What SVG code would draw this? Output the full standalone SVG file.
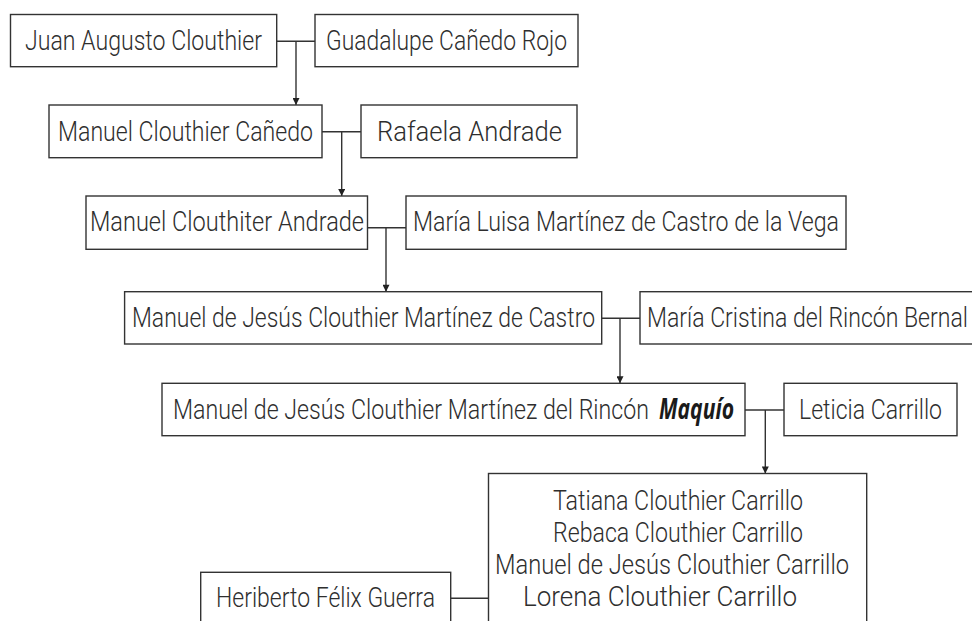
<svg xmlns="http://www.w3.org/2000/svg" width="972" height="621" viewBox="0 0 972 621">
<style>
.box{fill:#fff;stroke:#333;stroke-width:1.4}
.t{font-family:Roboto,"Liberation Sans",Arial,sans-serif;font-weight:300;font-size:28px;fill:#2e2e2e}
.em{font-family:"Open Sans","Liberation Sans",Arial,sans-serif;font-weight:700;font-style:italic;fill:#1a1a1a}
.c{fill:none;stroke:#333;stroke-width:1.4}
</style>
<defs>
<marker id="arr" viewBox="0 0 10 10" refX="10" refY="5" markerUnits="userSpaceOnUse" markerWidth="8" markerHeight="7" orient="auto">
<path d="M0,0 L10,5 L0,10 z" fill="#222"/>
</marker>
</defs>
<rect width="972" height="621" fill="#fff"/>
<g id="connectors">
<path class="c" d="M276.7,41.3 H315"/>
<path class="c" d="M296,41.3 V105" marker-end="url(#arr)"/>
<path class="c" d="M322,131.7 H361"/>
<path class="c" d="M341.7,131.7 V196" marker-end="url(#arr)"/>
<path class="c" d="M367.5,227.7 H406"/>
<path class="c" d="M386,227.7 V291.7" marker-end="url(#arr)"/>
<path class="c" d="M601.7,318.3 H640"/>
<path class="c" d="M620,318.3 V383.3" marker-end="url(#arr)"/>
<path class="c" d="M745,410 H784"/>
<path class="c" d="M765.3,410 V473.5" marker-end="url(#arr)"/>
<path class="c" d="M450.7,598.3 H488.5"/>
</g>
<g id="juan">
<rect class="box" x="10.5" y="14.5" width="266.2" height="52.2"/>
<text class="t" x="25" y="50" textLength="237" lengthAdjust="spacingAndGlyphs">Juan Augusto Clouthier</text>
</g>
<g id="guadalupe">
<rect class="box" x="315" y="14.5" width="263" height="52.2"/>
<text class="t" x="326" y="50" textLength="241" lengthAdjust="spacingAndGlyphs">Guadalupe Cañedo Rojo</text>
</g>
<g id="manuel1">
<rect class="box" x="49" y="105" width="273" height="52.7"/>
<text class="t" x="58" y="140.5" textLength="255" lengthAdjust="spacingAndGlyphs">Manuel Clouthier Cañedo</text>
</g>
<g id="rafaela">
<rect class="box" x="361" y="105" width="216" height="52.7"/>
<text class="t" x="377" y="140.5" textLength="185" lengthAdjust="spacingAndGlyphs">Rafaela Andrade</text>
</g>
<g id="manuel2">
<rect class="box" x="86" y="196" width="281.5" height="53.3"/>
<text class="t" x="90" y="231" textLength="274" lengthAdjust="spacingAndGlyphs">Manuel Clouthiter Andrade</text>
</g>
<g id="maria-luisa">
<rect class="box" x="406" y="196" width="440" height="53.3"/>
<text class="t" x="413" y="231" textLength="426" lengthAdjust="spacingAndGlyphs">María Luisa Martínez de Castro de la Vega</text>
</g>
<g id="manuel3">
<rect class="box" x="124.6" y="291.7" width="477.1" height="52.3"/>
<text class="t" x="132" y="327" textLength="463" lengthAdjust="spacingAndGlyphs">Manuel de Jesús Clouthier Martínez de Castro</text>
</g>
<g id="maria-cristina">
<rect class="box" x="640" y="291.7" width="345" height="52.3"/>
<text class="t" x="647" y="327" textLength="321" lengthAdjust="spacingAndGlyphs">María Cristina del Rincón Bernal</text>
</g>
<g id="maquio">
<rect class="box" x="162" y="383.3" width="583" height="52.4"/>
<text class="t" y="418.5"><tspan x="173" textLength="476" lengthAdjust="spacingAndGlyphs">Manuel de Jesús Clouthier Martínez del Rincón</tspan><tspan class="em" x="659" textLength="75" lengthAdjust="spacingAndGlyphs">Maquío</tspan></text>
</g>
<g id="leticia">
<rect class="box" x="784" y="383.3" width="173" height="52.4"/>
<text class="t" x="799" y="418.5" textLength="143" lengthAdjust="spacingAndGlyphs">Leticia Carrillo</text>
</g>
<g id="children">
<rect class="box" x="488.5" y="473.5" width="378.2" height="160"/>
<text class="t" x="553" y="509.5" textLength="250" lengthAdjust="spacingAndGlyphs">Tatiana Clouthier Carrillo</text>
<text class="t" x="553" y="541.5" textLength="250" lengthAdjust="spacingAndGlyphs">Rebaca Clouthier Carrillo</text>
<text class="t" x="495" y="573.5" textLength="354" lengthAdjust="spacingAndGlyphs">Manuel de Jesús Clouthier Carrillo</text>
<text class="t" x="523" y="606" textLength="274" lengthAdjust="spacingAndGlyphs">Lorena Clouthier Carrillo</text>
</g>
<g id="heriberto">
<rect class="box" x="200.7" y="572.3" width="250" height="60"/>
<text class="t" x="216" y="607" textLength="219" lengthAdjust="spacingAndGlyphs">Heriberto Félix Guerra</text>
</g>
</svg>
